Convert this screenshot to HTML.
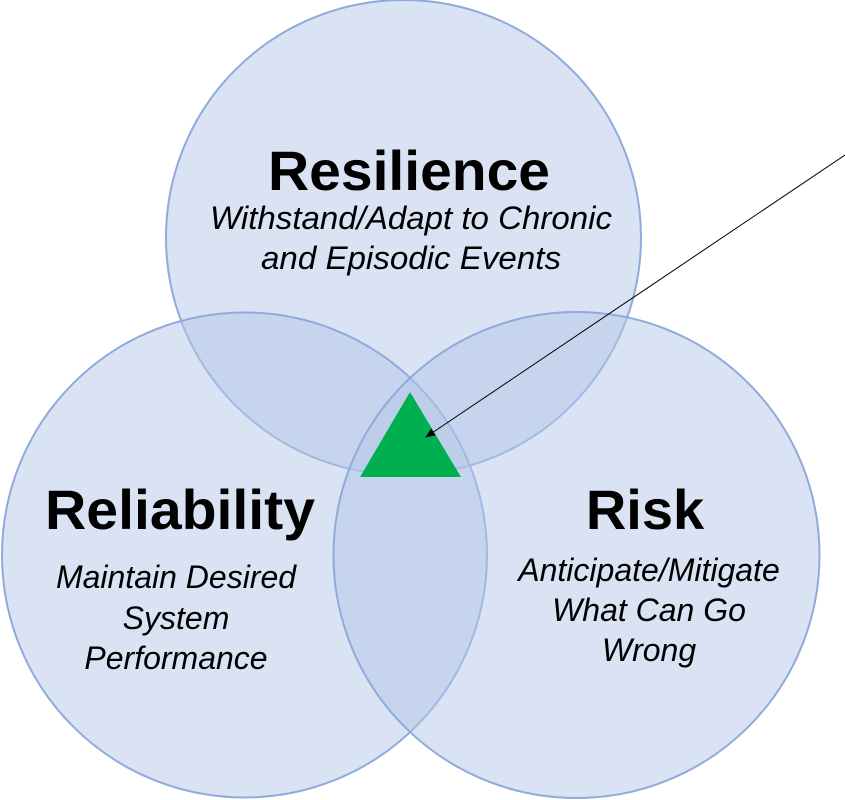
<!DOCTYPE html>
<html><head><meta charset="utf-8"><style>body{margin:0;background:#fff}svg{display:block}</style></head>
<body>
<svg width="845" height="800" viewBox="0 0 845 800" xmlns="http://www.w3.org/2000/svg" font-family="Liberation Sans, sans-serif">
<defs><marker id="a" markerWidth="10" markerHeight="10" refX="9" refY="5" orient="auto" markerUnits="userSpaceOnUse"><path d="M0,1 L10,5 L0,9 z" fill="#000"/></marker></defs>
<g fill="#b4c7e7" fill-opacity="0.5" stroke="#8faadc" stroke-width="2">
<circle cx="403.5" cy="237.5" r="237.5"/>
<circle cx="244.5" cy="555" r="242.5"/>
<circle cx="576.5" cy="555" r="243"/>
</g>
<polygon points="410,392 360,477 461,477" fill="#00b050"/>
<line x1="845" y1="155" x2="426" y2="437" stroke="#000" stroke-width="1" marker-end="url(#a)"/>
<g text-anchor="middle" fill="#000">
<text x="409" y="190" font-size="56" font-weight="bold" textLength="282" lengthAdjust="spacingAndGlyphs">Resilience</text>
<text x="411" y="229" font-size="32" font-style="italic" textLength="402" lengthAdjust="spacingAndGlyphs">Withstand/Adapt to Chronic</text>
<text x="411" y="269" font-size="32" font-style="italic" textLength="300" lengthAdjust="spacingAndGlyphs">and Episodic Events</text>
<text x="180" y="529" font-size="56" font-weight="bold" textLength="270" lengthAdjust="spacingAndGlyphs">Reliability</text>
<text x="176" y="588" font-size="32" font-style="italic">Maintain Desired</text>
<text x="176" y="629" font-size="32" font-style="italic">System</text>
<text x="176" y="669" font-size="32" font-style="italic">Performance</text>
<text x="645" y="529" font-size="56" font-weight="bold">Risk</text>
<text x="649" y="581" font-size="32" font-style="italic">Anticipate/Mitigate</text>
<text x="649" y="621" font-size="32" font-style="italic">What Can Go</text>
<text x="649" y="661" font-size="32" font-style="italic">Wrong</text>
</g>
</svg>
</body></html>
